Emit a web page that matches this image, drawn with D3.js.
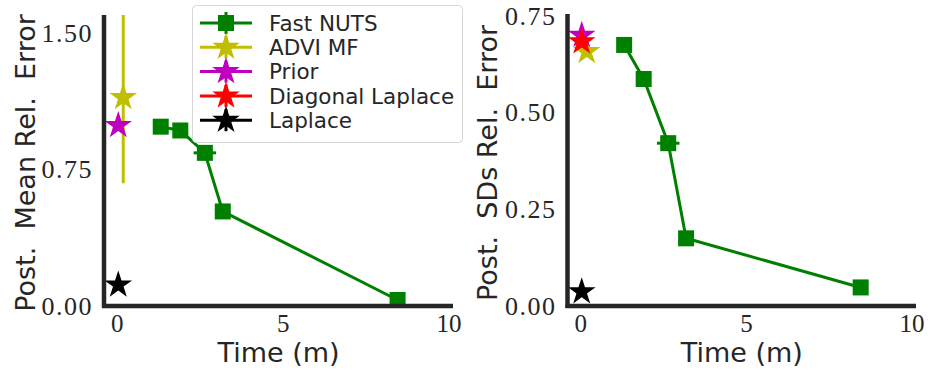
<!DOCTYPE html>
<html><head><meta charset="utf-8">
<script src="https://cdn.jsdelivr.net/npm/d3@7"></script>
<style>body{margin:0;background:#fff}svg{display:block}</style>
</head><body><svg id="c" width="928" height="371"></svg>
<script>
// ---- data ----
const nutsTime = [1.31, 1.90, 2.64, 3.18, 8.45];
const nutsTimeErr = [0.1, 0.1, 0.34, 0.1, 0.1];
const nutsMeanErr = [0.986, 0.965, 0.842, 0.52, 0.033];
const nutsSdErr = [0.675, 0.587, 0.421, 0.175, 0.048];
const baseNames = ["ADVI MF", "Prior", "Diagonal Laplace", "Laplace"];
const baseColors = ["#bfbf00", "#bf00bf", "#ff0000", "#000000"];
const baseTime = [0.18, 0.03, 0.03, 0.03];
const baseMeanErr = [1.146, 0.993, null, 0.116];
const baseMeanErrBar = [0.471, 0, 0, 0];
const baseSdErr = [0.658, 0.70, 0.683, 0.037];
const baseSdErrBar = [0, 0, 0, 0];
const legendNames = ["Fast NUTS", "ADVI MF", "Prior", "Diagonal Laplace", "Laplace"];
const xTicks = [0, 5, 10];
const yTicksMean = [0, 0.75, 1.5];
const yTicksSd = [0, 0.25, 0.5, 0.75];
const nutsColor = "#008000";

const svg = d3.select("#c");
const ink = "#262626";

function starPath(R) {
  const r = R * 0.382;
  const pts = [];
  for (let i = 0; i < 10; i++) {
    const a = -Math.PI / 2 + i * Math.PI / 5;
    const rr = i % 2 === 0 ? R : r;
    pts.push([rr * Math.cos(a), rr * Math.sin(a)]);
  }
  return "M" + pts.map(p => p[0].toFixed(2) + "," + p[1].toFixed(2)).join("L") + "Z";
}

function panel(opt) {
  const g = svg.append("g");
  const x = d3.scaleLinear().domain([-0.4, 10.12]).range([opt.x0, opt.x1]);
  const y = d3.scaleLinear().domain([0, opt.ymax]).range([306, opt.ytop]);
  const cid = "clip" + opt.id;
  svg.append("clipPath").attr("id", cid).append("rect")
    .attr("x", opt.x0).attr("y", opt.ytop).attr("width", opt.x1 - opt.x0).attr("height", 306 - opt.ytop);

  // NUTS line + error bars + markers
  const line = d3.line().x((d, i) => x(nutsTime[i])).y(d => y(d));
  const vals = opt.nuts;
  g.append("path").attr("d", line(vals)).attr("fill", "none").attr("stroke", nutsColor)
    .attr("stroke-width", 3).attr("clip-path", `url(#${cid})`);
  g.selectAll(".xe").data(vals).join("line")
    .attr("x1", (d, i) => x(nutsTime[i] - nutsTimeErr[i])).attr("x2", (d, i) => x(nutsTime[i] + nutsTimeErr[i]))
    .attr("y1", d => y(d)).attr("y2", d => y(d)).attr("stroke", nutsColor).attr("stroke-width", 3);
  g.selectAll(".sq").data(vals).join("rect")
    .attr("x", (d, i) => x(nutsTime[i]) - 8).attr("y", d => y(d) - 8)
    .attr("width", 16).attr("height", 16).attr("fill", nutsColor);

  // baselines
  baseNames.forEach((n, k) => {
    const v = opt.base[k];
    if (v == null) return;
    const e = opt.baseErr[k];
    if (e > 0) {
      g.append("line").attr("x1", x(baseTime[k])).attr("x2", x(baseTime[k]))
        .attr("y1", y(v - e)).attr("y2", y(v + e)).attr("stroke", baseColors[k]).attr("stroke-width", 3)
        .attr("clip-path", `url(#${cid})`);
    }
    g.append("path").attr("d", starPath(14.5))
      .attr("transform", `translate(${x(baseTime[k])},${y(v)})`).attr("fill", baseColors[k]);
  });

  // spines
  g.append("line").attr("x1", opt.x0).attr("x2", opt.x0).attr("y1", opt.ytop).attr("y2", 308)
    .attr("stroke", ink).attr("stroke-width", 4.5);
  g.append("line").attr("x1", opt.x0 - 2).attr("x2", opt.x1).attr("y1", 306).attr("y2", 306)
    .attr("stroke", ink).attr("stroke-width", 4.5);

  // ticks
  g.selectAll(".xt").data(xTicks).join("text")
    .attr("x", d => x(d)).attr("y", 332).attr("text-anchor", "middle")
    .attr("font-family", "Liberation Serif").attr("font-size", 25).attr("fill", ink).text(d => d);
  g.selectAll(".yt").data(opt.yTicks).join("text")
    .attr("x", opt.x0 - 11).attr("y", d => y(d)).attr("dy", "0.34em").attr("text-anchor", "end")
    .attr("font-family", "Liberation Serif").attr("font-size", 26).attr("letter-spacing", 1.5).attr("fill", ink)
    .text(d => d.toFixed(2));

  // labels
  g.append("text").attr("x", (opt.x0 + opt.x1) / 2).attr("y", 362).attr("text-anchor", "middle")
    .attr("font-family", "DejaVu Sans").attr("font-size", 27).attr("fill", ink).text("Time (m)");
  g.append("text").attr("transform", `translate(${opt.ylx},163) rotate(-90)`).attr("text-anchor", "middle")
    .attr("font-family", "DejaVu Sans").attr("font-size", 27).attr("fill", ink)
    .attr("xml:space", "preserve").style("white-space", "pre").text(opt.ylabel);
}

panel({id: "a", x0: 104, x1: 453, ytop: 15, ymax: 1.6, nuts: nutsMeanErr, base: baseMeanErr,
  baseErr: baseMeanErrBar, yTicks: yTicksMean, ylx: 35, ylabel: "Post.  Mean Rel.  Error"});
panel({id: "b", x0: 567.5, x1: 916, ytop: 14, ymax: 0.755, nuts: nutsSdErr, base: baseSdErr,
  baseErr: baseSdErrBar, yTicks: yTicksSd, ylx: 497, ylabel: "Post.  SDs Rel.  Error"});

// legend
const lg = svg.append("g");
lg.append("rect").attr("x", 192.5).attr("y", 5.5).attr("width", 270).attr("height", 137).attr("rx", 4)
  .attr("fill", "white").attr("fill-opacity", 0.85).attr("stroke", "#d6d6d6").attr("stroke-width", 1);
const legColors = [nutsColor].concat(baseColors);
legendNames.forEach((n, i) => {
  const cy = 23 + i * 24.3;
  const c = legColors[i];
  lg.append("line").attr("x1", 200).attr("x2", 252).attr("y1", cy).attr("y2", cy).attr("stroke", c).attr("stroke-width", 3);
  lg.append("line").attr("x1", 226).attr("x2", 226).attr("y1", cy - 11).attr("y2", cy + 11).attr("stroke", c).attr("stroke-width", 3);
  if (i === 0) lg.append("rect").attr("x", 218).attr("y", cy - 8).attr("width", 16).attr("height", 16).attr("fill", c);
  else lg.append("path").attr("d", starPath(14.5)).attr("transform", `translate(226,${cy})`).attr("fill", c);
  lg.append("text").attr("x", 269).attr("y", cy).attr("dy", "0.36em").attr("font-family", "DejaVu Sans")
    .attr("font-size", 21.5).attr("fill", ink).text(n);
});
</script></body></html>
